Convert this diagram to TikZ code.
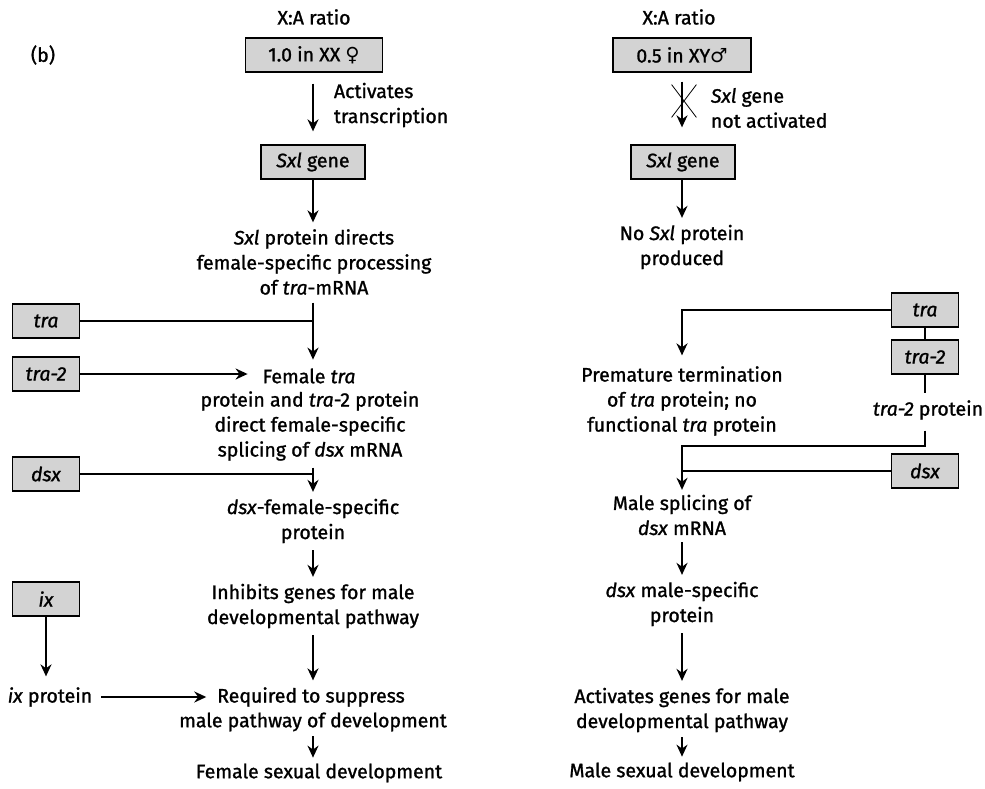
\documentclass[tikz,border=0pt]{standalone}
\usepackage{fontspec}
\setmainfont{Fira Sans}[UprightFeatures={FakeBold=1.2},ItalicFeatures={FakeBold=1.2}]
\newfontfamily\sexsym{DejaVu Sans}
\usetikzlibrary{arrows.meta,positioning,shapes.misc}
\definecolor{genegray}{RGB}{211,211,211}

\begin{document}
\begin{tikzpicture}[x=1pt,y=-1pt,>={Stealth[length=12pt,width=11pt]},line width=1.9pt,
    every node/.style={font=\fontsize{19.5}{25}\selectfont},
    txt/.style={align=center,inner sep=0pt},
    gene/.style={draw,fill=genegray,line width=1.3pt,minimum height=34pt,minimum width=67pt,inner sep=0pt}]
    \useasboundingbox (0,0) rectangle (985,789);
    \coordinate (axF) at (313,0);
    \coordinate (axM) at (682,0);

    % female side
    \node[txt] (ratioF) at (314,17) {X:A ratio};
    \node[txt] (panel) at (43,55) {(b)};
    \node[gene,minimum width=137pt] (xxF) at (314,55) {1.0 in XX {\sexsym ♀}};
    \node[txt,align=left,anchor=west] (actF) at (333,105) {Activates\\transcription};
    \node[gene,minimum width=104pt] (sxlF) at (313,162) {\textit{Sxl} gene};
    \node[txt] (protF) at (314,262) {\textit{Sxl} protein directs\\female-specific processing\\of \textit{tra}-mRNA};
    \node[gene] (traF) at (46,321) {\textit{tra}};
    \node[gene] (tra2F) at (46,374) {\textit{tra-2}};
    \node[txt] (femF) at (309,376) {Female \textit{tra}};
    \node[txt] (splF) at (310,426) {protein and \textit{tra}-2 protein\\direct female-specific\\splicing of \textit{dsx} mRNA};
    \node[gene] (dsxF) at (46,474) {\textit{dsx}};
    \node[txt] (dsxpF) at (313,521) {\textit{dsx}-female-specific\\protein};
    \node[txt] (inhF) at (313,606) {Inhibits genes for male\\developmental pathway};
    \node[gene] (ixF) at (46,599) {\textit{ix}};
    \node[txt] (ixpF) at (50,697) {\textit{ix} protein};
    \node[txt] (supF) at (311,697) {Required to suppress};
    \node[txt] (malpF) at (313,722) {male pathway of development};
    \node[txt] (devF) at (319,773) {Female sexual development};

    \draw[->,shorten <=11pt,shorten >=13pt] (xxF.south -| axF) -- (sxlF.north -| axF);
    \draw[->,shorten >=6pt] (sxlF.south -| axF) -- (protF.north -| axF);
    \draw[->,shorten <=7pt,shorten >=8pt] (protF.south -| axF) -- (femF.north -| axF);
    \draw (traF) -- (traF -| axF);
    \draw[->,shorten >=14pt] (tra2F) -- (tra2F -| femF.west);
    \draw[->,shorten <=6pt,shorten >=6pt] (splF.south -| axF) -- (dsxpF.north -| axF);
    \draw (dsxF) -- (dsxF -| axF);
    \draw[->,shorten <=6pt,shorten >=6pt] (dsxpF.south -| axF) -- (inhF.north -| axF);
    \draw[->,shorten <=6pt,shorten >=6pt] (inhF.south -| axF) -- (supF.north -| axF);
    \draw[->,shorten >=10pt] (ixF) -- (ixF |- ixpF.north);
    \draw[->,shorten <=8pt,shorten >=10pt] (ixpF) -- (supF);
    \draw[->,shorten <=4pt,shorten >=5pt] (malpF.south -| axF) -- (devF.north -| axF);

    % male side
    \node[txt] (ratioM) at (679,17) {X:A ratio};
    \node[gene,minimum width=138pt] (xyM) at (682,55) {0.5 in XY{\sexsym ♂}};
    \node[txt,align=left,anchor=west] (notM) at (710,108) {\textit{Sxl} gene\\not activated};
    \node[gene,minimum width=104pt] (sxlM) at (683,162) {\textit{Sxl} gene};
    \node[txt] (noM) at (682,247) {No \textit{Sxl} protein\\produced};
    \node[gene] (traM) at (925,310) {\textit{tra}};
    \node[gene] (tra2M) at (925,357) {\textit{tra-2}};
    \node[txt] (tra2pM) at (928,410) {\textit{tra-2} protein};
    \node[txt] (premM) at (682,401) {Premature termination\\of \textit{tra} protein; no\\functional \textit{tra} protein};
    \node[gene] (dsxM) at (925,471) {\textit{dsx}};
    \coordinate (joinM) at (925,446);
    \node[txt] (splM) at (682,515) {Male splicing of\\\textit{dsx} mRNA};
    \node[txt] (dsxpM) at (682,604) {\textit{dsx} male-specific\\protein};
    \node[txt] (actM) at (682,710) {Activates genes for male\\developmental pathway};
    \node[txt] (devM) at (682,772) {Male sexual development};

    \draw[->,shorten <=9pt,shorten >=17pt] (xyM.south -| axM) -- (sxlM.north -| axM);
    \node[draw,cross out,line width=0.8pt,minimum width=24pt,minimum height=32pt,inner sep=0pt] (blockM) at (684,101) {};
    \draw[->,shorten >=6pt] (sxlM.south -| axM) -- (noM.north -| axM);
    \draw[->,shorten >=10pt] (traM) -| (premM.north -| axM);
    \draw (traM) -- (tra2M);
    \draw[shorten >=6pt] (tra2M) -- (tra2M |- tra2pM.north);
    \draw[->,shorten <=10pt,shorten >=4pt] (tra2pM.south -| tra2M) -- (joinM) -| (splM.north -| axM);
    \draw (dsxM) -- (dsxM -| axM);
    \draw[->,shorten <=6pt,shorten >=6pt] (splM.south -| axM) -- (dsxpM.north -| axM);
    \draw[->,shorten <=6pt,shorten >=6pt] (dsxpM.south -| axM) -- (actM.north -| axM);
    \draw[->,shorten <=4pt,shorten >=5pt] (actM.south -| axM) -- (devM.north -| axM);
\end{tikzpicture}
\end{document}
